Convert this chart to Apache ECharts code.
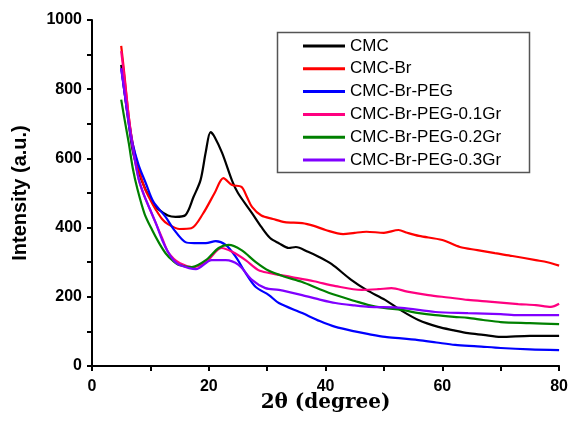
<!DOCTYPE html>
<html>
<head>
<meta charset="utf-8">
<script src="https://cdn.jsdelivr.net/npm/echarts@6/dist/echarts.min.js"></script>
<style>html,body{margin:0;padding:0;background:#fff;}#c{width:571px;height:428px;}</style>
</head>
<body>
<div id="c"></div>
<script>
const seriesNames = ['CMC', 'CMC-Br', 'CMC-Br-PEG', 'CMC-Br-PEG-0.1Gr', 'CMC-Br-PEG-0.2Gr', 'CMC-Br-PEG-0.3Gr'];
const seriesColors = ['#000000', '#ff0000', '#0000ff', '#ff0080', '#008000', '#8000ff'];

const cmc = [[5,870],[5.5,800],[6.3,700],[7,620],[8,560],[9.2,509],[10.5,470],[11.5,451],[13,435],[14.3,431],[16,436],[17.4,489],[18.6,538],[19.5,620],[20.3,676],[21,662],[22.3,615],[24,535],[25,500],[27.4,442],[29,402],[30.5,370],[32,355],[33.7,341],[34.9,344],[37,330],[38.8,316],[41,295],[44.4,249],[47,220],[50.2,191],[53,160],[55.9,133],[59.3,113],[62,103],[64.4,95],[67,90],[70,84],[75,87],[80,87]];
const cmcBr = [[5,925],[5.5,850],[6.3,720],[7,640],[8,570],[9,515],[10,480],[11,450],[12,425],[13,410],[15,396],[17,398],[19,440],[21,500],[22.5,543],[24,523],[25.6,518],[26.5,490],[27.4,460],[29,435],[31,425],[33,416],[36,413],[38,405],[40,393],[43,381],[45,385],[47,388],[50,385],[52.5,393],[54,385],[56,376],[60,364],[63,344],[66,335],[69,326],[72,318],[76,306],[78,300],[80,290]];
const cmcBrPeg = [[5,860],[5.5,800],[6.3,710],[7,640],[8,580],[9.2,529],[10.5,475],[12.6,431],[14,395],[16,358],[17.5,355],[19.5,355],[21.2,361],[22.9,350],[24.6,316],[26.3,269],[28,229],[30.3,205],[32,182],[36,153],[39,130],[41.7,113],[45,100],[47.4,92],[50.2,84],[53,80],[55.9,75],[59,68],[62.2,61],[66,57],[70,52],[75,48],[80,46]];
const gr01 = [[5,910],[5.5,840],[6.3,720],[7,630],[8,540],[9,490],[10,450],[11,410],[12,370],[13,330],[14,310],[15,298],[17.1,286],[19.5,300],[22.2,341],[24,330],[26.3,306],[28.5,277],[30.3,269],[34.2,257],[38,245],[41.7,231],[46.2,220],[49,222],[51.3,225],[54,215],[57.6,205],[61,198],[64.4,191],[68,186],[73,179],[76,176],[78.6,171],[80,180]];
const gr02 = [[5,770],[5.5,720],[6.3,644],[7,570],[7.8,510],[9,440],[10.3,393],[11.5,355],[12.6,326],[13.8,305],[14.9,292],[17.1,286],[19.5,306],[21.7,341],[23.4,350],[25.6,335],[28,301],[30.3,275],[33,258],[36,243],[39,222],[41.7,205],[45,188],[47.4,176],[50,168],[53,162],[56,153],[58.8,147],[62,142],[64.4,139],[67,133],[70,127],[75,124],[80,121]];
const gr03 = [[5,860],[5.5,800],[6.3,700],[7,630],[8,540],[9,490],[10,450],[11,410],[12,365],[13,330],[14,305],[15,292],[17.8,280],[20.5,306],[22.9,306],[25.1,292],[27.4,249],[29.7,225],[32,220],[36,205],[39,192],[41.7,182],[45,175],[47.4,171],[53,168],[58.8,156],[64.4,153],[70,150],[73,147],[80,147]];
const seriesData = [cmc, cmcBr, cmcBrPeg, gr01, gr02, gr03];

const xTicks = [0, 20, 40, 60, 80];
const yTicks = [0, 200, 400, 600, 800, 1000];

const chart = echarts.init(document.getElementById('c'), null, {renderer: 'canvas'});
const axisLabelStyle = {fontFamily: 'Liberation Sans, Arial', fontWeight: 'bold', fontSize: 16, color: '#000', formatter: v => String(v)};
chart.setOption({
  backgroundColor: '#fff',
  animation: false,
  grid: {left: 92, right: 10, top: 20, bottom: 62, containLabel: false},
  xAxis: {
    type: 'value', min: xTicks[0], max: xTicks[xTicks.length - 1], interval: 20,
    name: '2θ (degree)', nameLocation: 'middle', nameGap: 27, nameMoveOverlap: false,
    nameTextStyle: {fontFamily: 'DejaVu Serif', fontWeight: 'bold', fontSize: 20, color: '#000'},
    axisLine: {lineStyle: {color: '#000', width: 2}},
    axisTick: {show: true, inside: false, length: 5, lineStyle: {color: '#000', width: 2}},
    minorTick: {show: true, splitNumber: 2, length: 5, lineStyle: {color: '#000', width: 2}},
    splitLine: {show: false},
    axisLabel: Object.assign({margin: 13}, axisLabelStyle)
  },
  yAxis: {
    type: 'value', min: yTicks[0], max: yTicks[yTicks.length - 1], interval: 200,
    name: 'Intensity (a.u.)', nameLocation: 'middle', nameGap: 62, nameRotate: 90, nameMoveOverlap: false,
    nameTextStyle: {fontFamily: 'Liberation Sans, Arial', fontWeight: 'bold', fontSize: 20, color: '#000'},
    axisLine: {show: true, lineStyle: {color: '#000', width: 2}},
    axisTick: {show: true, inside: false, length: 5, lineStyle: {color: '#000', width: 2}},
    minorTick: {show: true, splitNumber: 2, length: 5, lineStyle: {color: '#000', width: 2}},
    splitLine: {show: false},
    axisLabel: Object.assign({margin: 10}, axisLabelStyle)
  },
  legend: {
    orient: 'vertical', left: 303, top: 37, padding: 0,
    itemWidth: 42, itemHeight: 3, itemGap: 4.8, icon: 'rect',
    textStyle: {fontFamily: 'Liberation Sans, Arial', fontSize: 17, color: '#000', lineHeight: 18},
    data: seriesNames
  },
  graphic: [{
    type: 'rect', left: 275, top: 30, z: 100,
    shape: {width: 252, height: 140},
    style: {fill: 'none', stroke: '#555', lineWidth: 1.5}
  }],
  series: seriesNames.map((n, i) => ({
    name: n, type: 'line', data: seriesData[i], showSymbol: false, symbol: 'none',
    smooth: 0.3, color: seriesColors[i],
    lineStyle: {width: 2.2, color: seriesColors[i]}
  }))
});
</script>
</body>
</html>
